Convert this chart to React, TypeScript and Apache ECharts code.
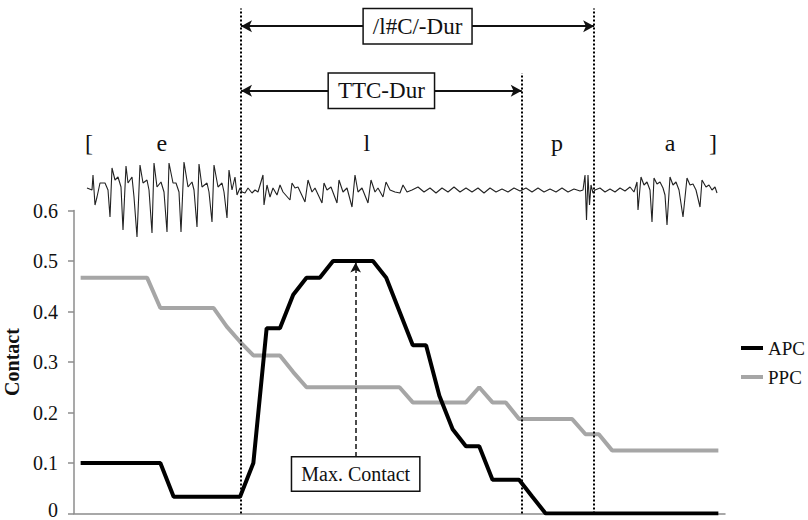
import React, { useEffect, useRef } from "react";
import * as echarts from "echarts";

// ---- data ----
const frames: string[] = Array.from({ length: 49 }, (_, i) => String(i));

const apc: number[] = [
  0.1, 0.1, 0.1, 0.1, 0.1, 0.1, 0.1,
  0.033, 0.033, 0.033, 0.033, 0.033, 0.033,
  0.1, 0.367, 0.367, 0.433, 0.467, 0.467,
  0.5, 0.5, 0.5, 0.5,
  0.467, 0.4, 0.333, 0.333, 0.233, 0.167, 0.133, 0.133,
  0.067, 0.067, 0.067, 0.033,
  0, 0, 0, 0, 0, 0, 0, 0, 0, 0, 0, 0, 0, 0,
];

const ppc: number[] = [
  0.467, 0.467, 0.467, 0.467, 0.467, 0.467,
  0.407, 0.407, 0.407, 0.407, 0.407,
  0.37, 0.34,
  0.313, 0.313, 0.313,
  0.28,
  0.25, 0.25, 0.25, 0.25, 0.25, 0.25, 0.25, 0.25,
  0.22, 0.22, 0.22, 0.22, 0.22,
  0.25,
  0.22, 0.22,
  0.187, 0.187, 0.187, 0.187, 0.187,
  0.157, 0.157,
  0.125, 0.125, 0.125, 0.125, 0.125, 0.125, 0.125, 0.125, 0.125,
];

const yTicks: string[] = ["0", "0.1", "0.2", "0.3", "0.4", "0.5", "0.6"];

// event boundaries (in frame units)
const lOnset = 12.07;
const ttcOffset = 33.2;
const lcOffset = 38.65;

// annotation levels (in contact units of the overlay scale)
const topArrowLevel = 0.965;
const ttcArrowLevel = 0.837;
const ttcLineTop = 0.872;
const segmentLevel = 0.734;
const maxFrame = 20.7;
const maxBoxLevel = 0.078;
const maxBoxTop = 0.112;
const maxContact = 0.497;

const segmentLabels: string[] = ["[", "e", "l", "p", "a", "]"];
const segmentFrames: number[] = [0.63, 6.12, 21.55, 35.85, 44.36, 47.6];

// acoustic waveform trace, [time, amplitude]
const waveform: number[][] = [
  [87, 2], [92, 0], [93, 15], [95, -15], [97, -7], [100, 7], [105, 7], [108, 0],
  [110, -27], [112, 22], [115, 10], [118, 13], [121, 3], [123, -40], [126, 24],
  [128, 7], [132, 13], [134, -7], [137, -47], [140, 25], [143, 7], [147, 10],
  [149, 0], [152, -43], [154, 27], [157, 3], [161, 8], [164, -2], [167, -42],
  [169, 27], [173, 7], [176, 7], [179, -2], [181, -42], [184, 28], [188, 3],
  [192, 8], [194, 0], [197, -37], [199, 26], [202, 3], [207, 7], [209, -2],
  [212, -32], [214, 25], [218, 3], [222, 7], [224, -2], [227, -28], [229, 20],
  [232, 0], [235, 13], [237, -5], [240, 2],
  [242, -2], [245, -3], [248, 2], [252, -3], [255, 0], [258, -2], [263, 15],
  [264, -15], [267, 5], [270, -7], [273, 2], [277, -5], [280, 5], [283, -2],
  [290, -10], [292, 7], [295, 2], [298, 3], [305, -12], [308, 10], [312, -2],
  [315, 2], [322, -13], [324, 7], [327, 0], [331, 3], [337, -13], [339, 10],
  [343, -2], [347, 2], [352, -17], [355, 15], [358, -2], [362, 2], [368, -13],
  [371, 10], [375, -2], [378, 2], [383, -7], [386, 8], [390, 0], [395, -2],
  [400, -3], [403, 5], [407, -2], [412, 0],
  [418, 3], [424, -2], [430, 2], [436, -3], [442, 2], [448, -2], [454, 3],
  [460, -2], [466, 2], [472, -2], [478, 2], [484, -3], [490, 2], [496, -2],
  [502, 1], [508, -2], [514, 2], [520, -1], [526, 2], [532, -2], [538, 2],
  [544, -2], [550, 1], [556, -2], [562, 2], [568, -2], [574, 1], [580, -1],
  [583, 0], [585, 15], [586.5, -30], [588, 15], [589.5, -15], [591, 5],
  [593, -3], [595, 0], [600, 2], [605, -2], [610, 1], [615, -2], [620, 2],
  [625, -1], [630, 3], [634, -2],
  [637, 8], [638, -20], [641, 13], [644, 5], [647, 8], [650, 0], [652, -32],
  [654, 12], [657, 6], [660, 8], [663, 2], [665, -5], [667, -35], [670, 13],
  [673, 5], [676, 8], [679, 0], [683, -27], [687, 12], [690, 5], [693, 6],
  [696, 0], [700, -17], [702, 10], [706, 3], [709, 5], [712, 0], [715, 3],
  [717, -3],
];

const FONT = '"Liberation Serif", "Times New Roman", serif';

export default function App() {
  const ref = useRef<HTMLDivElement>(null);

  useEffect(() => {
    if (!ref.current) return;
    const chart = echarts.init(ref.current, undefined, { renderer: "svg" });

    const boxLabel = (size: number, pad: number[]) => ({
      show: true,
      position: "inside",
      fontFamily: FONT,
      fontSize: size,
      color: "#111",
      opacity: 1,
      backgroundColor: "#fff",
      borderColor: "#111",
      borderWidth: 1.5,
      padding: pad,
    });

    const option: any = {
      animation: false,
      backgroundColor: "#fff",
      textStyle: { fontFamily: FONT },
      legend: {
        orient: "vertical",
        left: 741,
        top: 338,
        padding: 0,
        icon: "rect",
        itemWidth: 22,
        itemHeight: 4,
        itemGap: 9,
        data: ["APC", "PPC"],
        textStyle: { fontFamily: FONT, fontSize: 19, color: "#111", lineHeight: 20 },
      },
      grid: [
        { left: 74, right: 83, top: 210.5, bottom: 6.5, outerBoundsMode: "none", containLabel: false },
        { left: 74, right: 83, top: 8.5, bottom: 6.5, outerBoundsMode: "none", containLabel: false },
        { left: 87, right: 91, top: 140, height: 100, outerBoundsMode: "none", containLabel: false },
      ],
      xAxis: [
        {
          type: "category",
          gridIndex: 0,
          data: frames,
          boundaryGap: true,
          axisLine: { lineStyle: { color: "#8c8c8c", width: 1.5 } },
          axisTick: { show: false },
          axisLabel: { show: false },
          splitLine: { show: false },
        },
        { type: "value", gridIndex: 1, min: -0.5, max: 48.5, show: false },
        { type: "value", gridIndex: 2, min: 87, max: 717, show: false },
      ],
      yAxis: [
        {
          type: "value",
          gridIndex: 0,
          min: 0,
          max: 0.6,
          interval: 0.1,
          name: "Contact",
          nameLocation: "middle",
          nameRotate: 90,
          nameGap: 47,
          nameTextStyle: { fontFamily: FONT, fontSize: 20, fontWeight: "bold", color: "#111" },
          axisLine: { show: true, lineStyle: { color: "#8c8c8c", width: 1.5 } },
          axisTick: { show: true, length: 6, lineStyle: { color: "#8c8c8c", width: 1.5 } },
          axisLabel: {
            margin: 16,
            fontFamily: FONT,
            fontSize: 20,
            color: "#111",
            formatter: (v: number) => {
              const i = Math.round(v * 10);
              const t = yTicks[i] ?? "";
              return i === 0 ? `{z|${t}}` : t;
            },
            rich: {
              z: { fontFamily: FONT, fontSize: 20, color: "#111", padding: [0, 0, 7, 0] },
            },
          },
          splitLine: { show: false },
        },
        { type: "value", gridIndex: 1, min: 0, max: 1, show: false },
        { type: "value", gridIndex: 2, min: -50, max: 50, show: false },
      ],
      series: [
        {
          name: "APC",
          type: "line",
          xAxisIndex: 0,
          yAxisIndex: 0,
          data: apc,
          symbol: "none",
          color: "#000",
          lineStyle: { color: "#000", width: 4 },
          z: 5,
        },
        {
          name: "PPC",
          type: "line",
          xAxisIndex: 0,
          yAxisIndex: 0,
          data: ppc,
          symbol: "none",
          color: "#a6a6a6",
          lineStyle: { color: "#a6a6a6", width: 4 },
          z: 4,
        },
        {
          name: "wave",
          type: "line",
          xAxisIndex: 2,
          yAxisIndex: 2,
          data: waveform,
          symbol: "none",
          lineStyle: { color: "#222", width: 1.1 },
          silent: true,
          z: 3,
        },
        {
          name: "boundaries",
          type: "scatter",
          xAxisIndex: 1,
          yAxisIndex: 1,
          data: [],
          silent: true,
          markLine: {
            silent: true,
            symbol: ["none", "none"],
            label: { show: false },
            lineStyle: { type: [2, 2], color: "#000", width: 2 },
            data: [
              [{ coord: [lOnset, 0] }, { coord: [lOnset, 1] }],
              [{ coord: [ttcOffset, 0] }, { coord: [ttcOffset, ttcLineTop] }],
              [{ coord: [lcOffset, 0] }, { coord: [lcOffset, 1] }],
            ],
          },
          z: 6,
        },
        {
          name: "durations",
          type: "scatter",
          xAxisIndex: 1,
          yAxisIndex: 1,
          data: [],
          silent: true,
          markLine: {
            silent: true,
            symbol: ["arrow", "arrow"],
            symbolSize: [9, 11],
            label: { show: false },
            lineStyle: { type: "solid", color: "#111", width: 2 },
            data: [
              [{ coord: [lOnset, topArrowLevel] }, { coord: [lcOffset, topArrowLevel] }],
              [{ coord: [lOnset, ttcArrowLevel] }, { coord: [ttcOffset, ttcArrowLevel] }],
            ],
          },
          z: 6,
        },
        {
          name: "maxArrow",
          type: "scatter",
          xAxisIndex: 1,
          yAxisIndex: 1,
          data: [],
          silent: true,
          markLine: {
            silent: true,
            symbol: ["none", "arrow"],
            symbolSize: [8, 10],
            label: { show: false },
            lineStyle: { type: [5, 3], color: "#111", width: 1.5 },
            data: [[{ coord: [maxFrame, maxBoxTop] }, { coord: [maxFrame, maxContact] }]],
          },
          z: 6,
        },
        {
          name: "boxes",
          type: "scatter",
          xAxisIndex: 1,
          yAxisIndex: 1,
          symbolSize: 0,
          silent: true,
          itemStyle: { opacity: 1 },
          z: 10,
          zlevel: 1,
          data: [
            {
              value: [(lOnset + lcOffset) / 2, topArrowLevel],
              label: { ...boxLabel(23, [6, 9, 5, 9]), formatter: "/l#C/-Dur" },
            },
            {
              value: [(lOnset + ttcOffset) / 2, ttcArrowLevel],
              label: { ...boxLabel(23, [6, 9, 5, 9]), formatter: "TTC-Dur" },
            },
            {
              value: [maxFrame, maxBoxLevel],
              label: { ...boxLabel(20, [7, 9, 6, 9]), formatter: "Max. Contact" },
            },
          ],
        },
        {
          name: "segments",
          type: "scatter",
          xAxisIndex: 1,
          yAxisIndex: 1,
          symbolSize: 0,
          silent: true,
          itemStyle: { opacity: 1 },
          z: 10,
          data: segmentLabels.map((s, i) => ({
            value: [segmentFrames[i], segmentLevel],
            label: {
              show: true,
              position: "inside",
              formatter: s,
              fontFamily: FONT,
              fontSize: 24,
              color: "#111",
              opacity: 1,
            },
          })),
        },
      ],
    };

    chart.setOption(option);
    return () => chart.dispose();
  }, []);

  return (
    <div
      ref={ref}
      style={{ position: "fixed", left: 0, top: 0, width: 808, height: 520, background: "#fff" }}
    />
  );
}
